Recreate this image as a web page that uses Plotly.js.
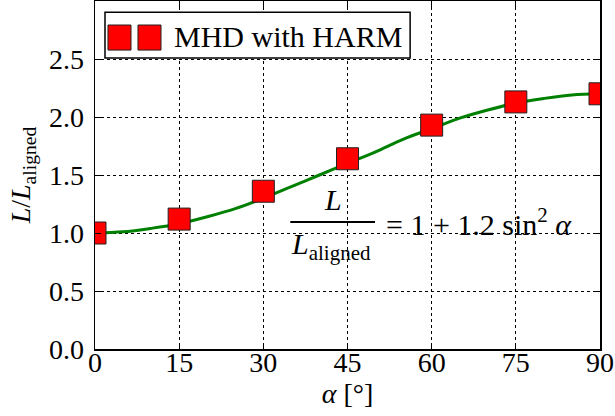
<!DOCTYPE html>
<html><head><meta charset="utf-8">
<script src="https://cdn.plot.ly/plotly-3.0.1.min.js"></script>
<style>html,body{margin:0;padding:0;background:#fff}</style>
</head><body>
<div id="chart" style="width:615px;height:416px"></div>
<script>
// Simulation points (MHD with HARM)
const alphaPts = [0, 15, 30, 45, 60, 75, 90];
const ratioPts = [1.00, 1.12, 1.36, 1.64, 1.93, 2.13, 2.20];
// Fit curve
const alphaCurve = [0, 5, 10, 15, 20, 25, 30, 35, 40, 45, 50, 55, 60, 65, 70, 75, 80, 85, 90];
const ratioCurve = [1.00, 1.01, 1.04, 1.08, 1.14, 1.21, 1.30, 1.40, 1.50, 1.60, 1.70, 1.81, 1.90, 1.99, 2.06, 2.12, 2.16, 2.19, 2.20];
const xTicks = [0, 15, 30, 45, 60, 75, 90];
const yTicks = [0, 0.5, 1.0, 1.5, 2.0, 2.5];
const yTickText = ['0.0', '0.5', '1.0', '1.5', '2.0', '2.5'];
const legendLabel = 'MHD with HARM';

const FONT = 'Liberation Serif, DejaVu Serif, serif';

const traces = [
  {x: alphaCurve, y: ratioCurve, mode: 'lines', line: {color: '#008000', width: 3, shape: 'spline'},
   showlegend: false, hoverinfo: 'skip'},
  {x: alphaPts, y: ratioPts, mode: 'markers', cliponaxis: true,
   marker: {symbol: 'square', size: 22, color: '#ff0000', line: {color: '#222', width: 1}},
   showlegend: false}
];

const axisCommon = {
  showline: true, linecolor: '#000', linewidth: 1.5, mirror: 'ticks',
  ticks: 'inside', ticklen: 6, tickcolor: '#000', tickwidth: 1,
  showgrid: true, gridcolor: '#000', gridwidth: 1, griddash: 'dot',
  zeroline: false, tickfont: {family: FONT, size: 28, color: '#000'}
};

const layout = {
  width: 615, height: 416,
  margin: {l: 95, r: 15, t: 1, b: 67},
  paper_bgcolor: '#fff', plot_bgcolor: '#fff',
  font: {family: FONT, color: '#000'},
  xaxis: Object.assign({}, axisCommon, {
    range: [0, 90], tickvals: xTicks, ticktext: xTicks.map(String), ticklabelstandoff: -12,
    title: {text: '<i>α</i> [°]', font: {family: FONT, size: 28}, standoff: 0}
  }),
  yaxis: Object.assign({}, axisCommon, {
    range: [0, 3.0], tickvals: yTicks, ticktext: yTickText, ticklabelstandoff: 4,
    title: {text: '<i>L</i>/<i>L</i><sub>aligned</sub>', font: {family: FONT, size: 28}, standoff: 10}
  }),
  shapes: [
    // legend box
    {type: 'rect', xref: 'paper', yref: 'paper', x0: 0.0198, x1: 0.624, y0: 0.836, y1: 0.968,
     line: {color: '#000', width: 1.5}, fillcolor: '#fff', layer: 'above'},
    {type: 'rect', xref: 'paper', yref: 'paper', x0: 0.0257, x1: 0.0713, y0: 0.859, y1: 0.931,
     line: {color: '#222', width: 1}, fillcolor: '#ff0000', layer: 'above'},
    {type: 'rect', xref: 'paper', yref: 'paper', x0: 0.0851, x1: 0.1307, y0: 0.859, y1: 0.931,
     line: {color: '#222', width: 1}, fillcolor: '#ff0000', layer: 'above'},
    // fraction bar
    {type: 'line', xref: 'x', yref: 'y', x0: 34.8, x1: 49.9, y0: 1.095, y1: 1.095,
     line: {color: '#000', width: 2}}
  ],
  annotations: [
    {xref: 'paper', yref: 'paper', x: 0.1525, y: 0.899, xanchor: 'left', yanchor: 'middle',
     text: legendLabel, showarrow: false, font: {family: FONT, size: 30, color: '#000'}},
    {xref: 'x', yref: 'y', x: 42.4, y: 1.29, xanchor: 'center', yanchor: 'middle',
     text: '<i>L</i>', showarrow: false, font: {family: FONT, size: 30, color: '#000'}},
    {xref: 'x', yref: 'y', x: 42.0, y: 0.89, xanchor: 'center', yanchor: 'middle',
     text: '<i>L</i><sub>aligned</sub>', showarrow: false, font: {family: FONT, size: 30, color: '#000'}},
    {xref: 'x', yref: 'y', x: 51.5, y: 1.095, xanchor: 'left', yanchor: 'middle',
     text: '= 1 + 1.2 sin<sup>2</sup> <i>α</i>', showarrow: false, font: {family: FONT, size: 30, color: '#000'}}
  ]
};

Plotly.newPlot('chart', traces, layout, {displayModeBar: false, staticPlot: true});
</script>
</body></html>
